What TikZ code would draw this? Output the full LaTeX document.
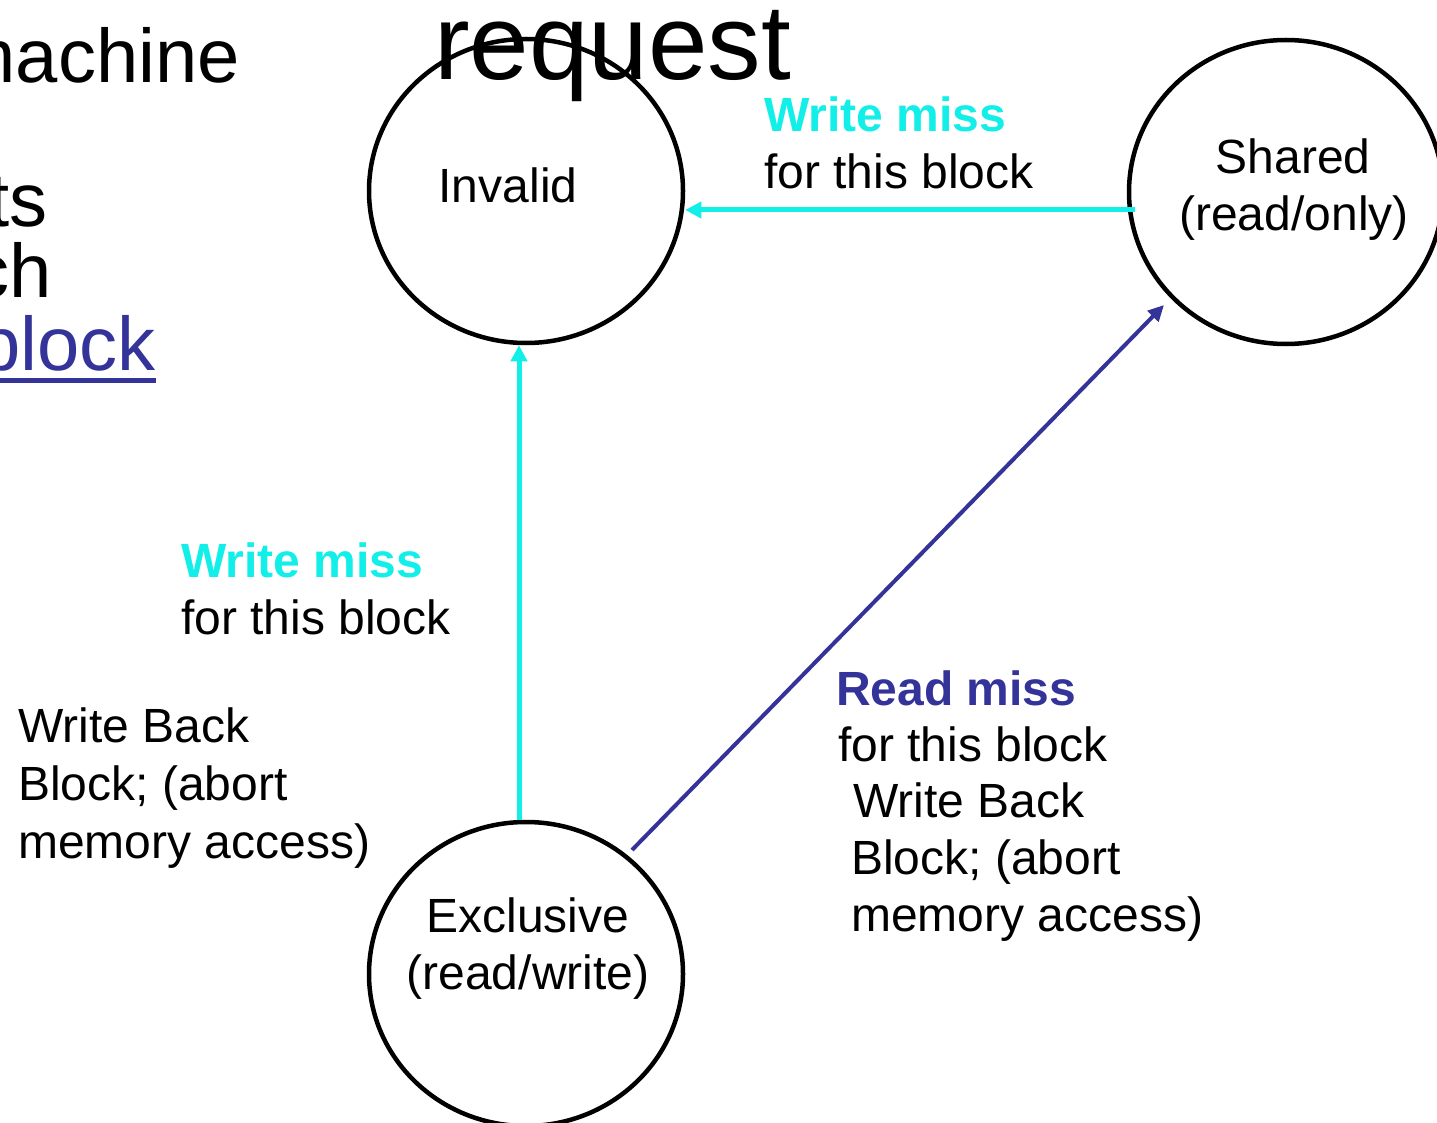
\documentclass[tikz,border=0pt]{standalone}
\usepackage{fontspec}
\setmainfont{Liberation Sans}
\usetikzlibrary{shapes.geometric, arrows.meta, calc}
\definecolor{wmcyan}{RGB}{18,238,232}
\definecolor{rmblue}{RGB}{51,51,153}
\begin{document}
\begin{tikzpicture}[x=1pt, y=-1pt,
  state/.style={ellipse, draw=black, line width=4.5, minimum width=314, minimum height=304, inner sep=0},
  lbl/.style={font=\fontsize{48}{57}\selectfont, inner sep=0, anchor=base west},
  lblb/.style={font=\fontsize{48}{57}\selectfont\bfseries, inner sep=0, anchor=base west},
  ctr/.style={font=\fontsize{48}{57}\selectfont, inner sep=0, anchor=base},
  big/.style={font=\fontsize{76}{88}\selectfont, inner sep=0, anchor=base east},
  wire/.style={line width=5, -{Triangle[length=16, width=16]}},
  thinwire/.style={line width=4, -{Triangle[length=16, width=15]}},
]
\clip (0,0) rectangle (1437,1123);

% heading fragments on the left
\node[big] (t1) at (240,83) {machine};
\node[big] (t2) at (48,227) {ts};
\node[big] (t3) at (52,298) {ch};
\node[big, text=rmblue] (t4) at (156,370) {block};
\draw[rmblue, line width=5] ([yshift=-10.5]t4.base west) -- ([yshift=-10.5]t4.base east);

% states
\node[state] (inv) at (526,191) {};
\node[state] (sh) at (1286,192) {};
\node[state] (ex) at (526,974) {};

\node[font=\fontsize{107}{122}\selectfont, inner sep=0, anchor=base west] (rq) at (434,80) {request};

\node[ctr] (invl) at (508,203) {Invalid};
\node[ctr] (shl1) at (1293,174) {Shared};
\node[ctr] (shl2) at (1294,231) {(read/only)};
\node[ctr] (exl1) at (528,932) {Exclusive};
\node[ctr] (exl2) at (528,989) {(read/write)};

% transitions
\draw[wire, wmcyan] ([xshift=8]sh.west |- 0,210) -- (inv.east |- 0,210);
\draw[wire, wmcyan] (ex.north -| 519,0) -- (inv.south -| 519,0);
\draw[thinwire, rmblue] ($(ex.center)+(106,-124)$) -- ($(sh.center)+(-122,113)$);

% transition labels
\node[lblb, text=wmcyan] (wm1a) at (764,132) {Write miss};
\node[lbl] (wm1b) at (764,189) {for this block};

\node[lblb, text=wmcyan] (wm2a) at (181,577) {Write miss};
\node[lbl] (wm2b) at (181,634) {for this block};

\node[lbl] (wb1) at (18,742) {Write Back};
\node[lbl] (wb2) at (18,800) {Block; (abort};
\node[lbl] (wb3) at (18,858) {memory access)};

\node[lblb, text=rmblue] (rm1) at (836,705) {Read miss};
\node[lbl] (rm2) at (838,761) {for this block};
\node[lbl] (rm3) at (853,817) {Write Back};
\node[lbl] (rm4) at (851,874) {Block; (abort};
\node[lbl] (rm5) at (851,931) {memory access)};
\end{tikzpicture}
\end{document}
